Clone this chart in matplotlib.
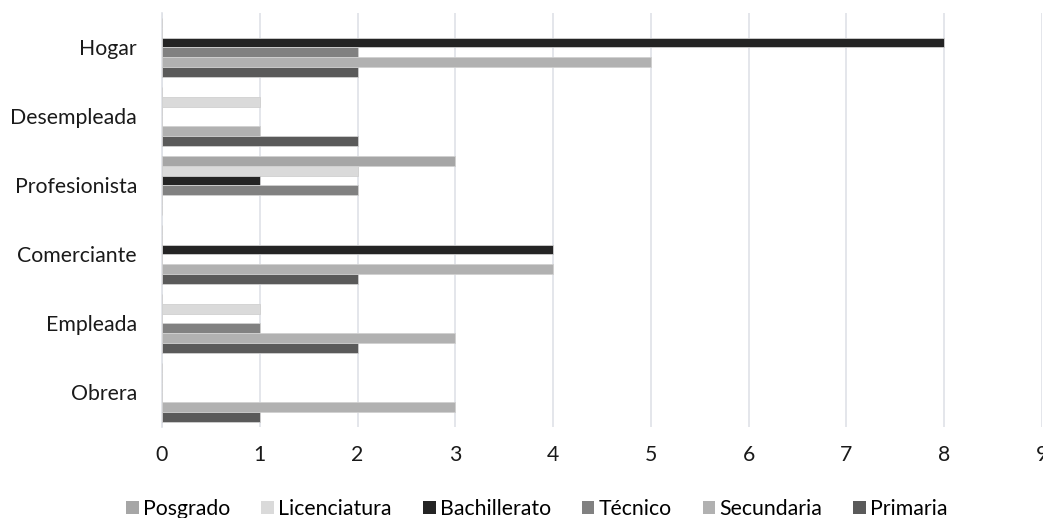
import numpy as np
import matplotlib
matplotlib.use("Agg")
import matplotlib.pyplot as plt
from matplotlib.patches import Patch

plt.rcParams['font.family'] = ['Lato', 'DejaVu Sans']

# occupations, listed bottom to top as drawn on the axis
categories = ["Obrera", "Empleada", "Comerciante", "Profesionista",
              "Desempleada", "Hogar"]

series_names = ["Posgrado", "Licenciatura", "Bachillerato",
                "Técnico", "Secundaria", "Primaria"]

posgrado     = [0, 0, 0, 3, 0, 0]
licenciatura = [0, 1, 0, 2, 1, 0]
bachillerato = [0, 0, 4, 1, 0, 8]
tecnico      = [0, 1, 0, 2, 0, 2]
secundaria   = [3, 3, 4, 0, 1, 5]
primaria     = [1, 2, 2, 0, 2, 2]

x_ticks = list(range(0, 10))

colors = ["#a6a6a6", "#dadada", "#242424", "#818181", "#b1b1b1", "#5a5a5a"]

values = [posgrado, licenciatura, bachillerato, tecnico, secundaria, primaria]

FS = 15.3

fig = plt.figure(figsize=(10.43, 5.18), dpi=100)
ax = fig.add_axes([0.1553, 0.1757, 0.8437, 0.7993])

y = np.arange(len(categories))
h = 0.142
n = len(series_names)
for i, (name, vals, col) in enumerate(zip(series_names, values, colors)):
    # first series sits at the top of each group
    offset = ((n - 1) / 2 - i) * h
    ax.barh(y + offset, vals, height=h, color=col, label=name,
            edgecolor="#d0d0d0", linewidth=0.6, zorder=3)

ax.set_xlim(0, 9)
ax.set_ylim(-0.5, len(categories) - 0.5)
ax.set_xticks(x_ticks)
ax.set_yticks(y)
ax.set_yticklabels(categories)
ax.grid(axis="x", color="#dfe2e7", linewidth=1.2, zorder=0)
ax.set_axisbelow(True)
for side in ["top", "right", "bottom"]:
    ax.spines[side].set_visible(False)
ax.spines["left"].set_color("#dfe2e7")
ax.spines["left"].set_linewidth(1.2)
ax.tick_params(axis="both", length=0, labelsize=FS, colors="#1a1a1a")
ax.tick_params(axis="y", pad=18)
ax.tick_params(axis="x", pad=13)

handles = [Patch(facecolor=c, edgecolor="none") for c in colors]
fig.legend(handles, series_names, loc="center", bbox_to_anchor=(0.515, 0.017),
           ncol=6, frameon=False, fontsize=FS, handlelength=0.6,
           handleheight=0.6, handletextpad=0.2, columnspacing=1.45,
           borderpad=0, borderaxespad=0)

fig.savefig("out.png", dpi=100)
